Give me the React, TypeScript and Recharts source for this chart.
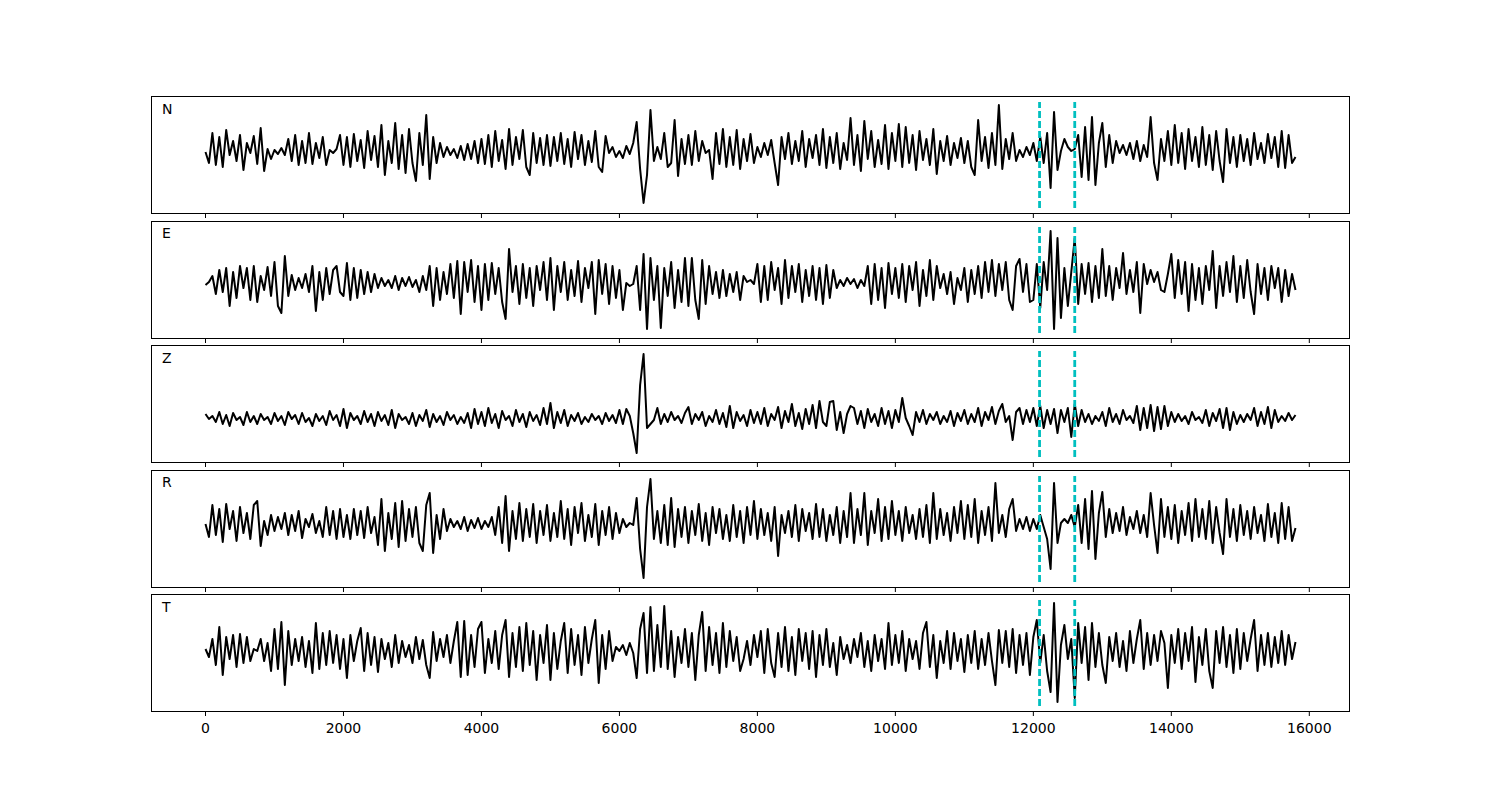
import { Line, LineChart, ReferenceLine, XAxis, YAxis } from "recharts";

// one value every 50 samples, 0..15800, amplitude read in px from panel centre (up = +)
const STEP = 50;
const X_TICKS = [0, 2000, 4000, 6000, 8000, 10000, 12000, 14000, 16000];
const PICKS = [12090, 12600];
const LABELS = ["N", "E", "Z", "R", "T"];

const traceN = [
  3, -8, 22, -10, 18, -12, 25, 0, 14, -6, 20, -15, 12, 2, 19, -9, 27, -16, 6, -4,
  5, 1, 7, 0, 16, -6, 20, -10, 14, -8, 22, -9, 12, -3, 18, -10, 5, 2, 6, 20,
  -10, 18, -12, 21, -6, 15, -13, 24, -5, 19, -12, 30, -20, 14, -8, 32, -14, 20, -18, 26,
  -8, -26, 22, -10, 40, -24, 18, -8, 12, -2, 8, 0, 6, -3, 9, -5, 11, -4, 14, -8,
  16, -9, 20, -12, 24, -6, 15, -14, 26, -10, 18, -4, 25, -12, -20, 22, -8, 17, -10, 20,
  -11, 18, -6, 22, -9, 16, -12, 23, -4, 20, -10, 14, -7, 24, -12, -17, 19, 2, 8, -2,
  4, -3, 9, 1, 12, 33, -14, -48, -20, 45, -6, 8, -4, 22, -12, -8, 35, -21, 16, -9,
  20, -10, 24, -6, 14, 2, 5, -24, 22, -9, 26, -12, 18, -10, 25, -14, 16, -6, 21, -8,
  8, -2, 12, 0, 15, -8, -30, 18, -4, 22, -9, 14, -6, 24, -12, 16, -3, 20, -10, 26,
  -13, 18, -8, 22, -14, 12, -5, 37, -10, 20, -16, 34, -4, 24, -12, 15, -9, 30, -14, 22,
  -6, 31, -12, 28, -8, 20, -15, 24, -5, 16, -10, 26, -19, 14, -6, 19, -10, 12, -3, 17,
  -8, 14, -12, -20, 35, -6, 18, -13, 22, -10, 50, -14, 16, -4, 22, -6, 5, -2, 8, 0,
  12, -6, 18, -8, 22, -33, 43, -15, 4, 16, 8, 4, 6, 20, -22, 28, -25, 38, -30, 12,
  32, -12, 20, -8, 14, 2, 10, 0, 12, -4, 14, -6, 10, -2, 38, -8, -25, 16, -6, 24,
  -10, 30, -8, 22, -14, 26, -6, 18, -12, 28, -10, 20, -15, 24, -6, -27, 26, -8, 18, -12,
  20, -6, 16, -10, 22, -4, 12, -8, 21, -3, 18, -12, 24, -13, 20, -8, -2,
];

const traceE = [
  -5, -2, 4, -14, 10, -12, 12, -26, 8, -18, 14, -8, 12, -20, 14, -22, 4, -10, 13, -16,
  18, -26, -33, 24, -16, 5, -10, 2, -8, 6, -12, 14, -31, 8, -20, 12, -14, 10, 14, -12,
  -16, 17, -20, 12, -18, 10, -14, 8, -12, 6, -8, 2, -6, 0, -8, 4, -10, 2, -6, 3,
  -7, 0, -12, 4, -10, 14, -26, 12, -20, 8, -14, 16, -18, 19, -34, 18, -12, 20, -22, 14,
  -30, 16, -20, 17, -14, 12, -22, -39, 31, -12, 14, -24, 16, -18, 12, -26, 14, -10, 18, -20,
  22, -30, 14, -12, 18, -20, 10, -16, 19, -22, 12, -8, 18, -34, 20, -14, 16, -24, 14, -18,
  10, -30, -3, -6, -4, 14, -30, 26, -49, 22, -20, 14, -48, 12, -16, 18, -28, 10, -22, 22,
  -26, 22, -20, -39, 20, -24, 14, -14, 8, -18, 10, -16, 6, -12, 8, -20, 4, -2, 0, -4,
  16, -22, 14, -20, 18, -10, 12, -24, 20, -18, 14, -12, 16, -22, 10, -16, 14, -20, 12, -24,
  15, -18, 10, -8, 0, -6, 2, -4, 1, -8, 0, -6, 14, -24, 16, -20, 12, -28, 17, -14,
  12, -18, 16, -22, 14, -10, 18, -26, 10, -16, 20, -20, 14, -8, 6, -14, 8, -24, 2, -10,
  12, -22, 10, -14, 14, -18, 18, -12, 20, -16, 16, -10, 18, -20, -30, 14, 21, -12, 16, -22,
  -20, 16, -28, 18, -10, 49, -49, 42, -38, 12, -26, 8, 42, -24, 16, -14, 17, -22, 14, -18,
  31, -16, 14, -20, 12, -8, 27, -14, 10, -12, 18, -33, 16, -4, 10, -2, 8, -10, -12, 6,
  26, -18, 20, -14, 18, -31, 16, -20, 12, -24, 14, -10, 29, -28, 14, -16, 18, -12, 24, -22,
  14, -18, 20, -12, -34, 16, -14, 12, -20, 14, -8, 12, -22, 10, -16, 6, -10,
];

const traceZ = [
  -10, -15, -12, -18, -8, -20, -11, -22, -9, -16, -13, -21, -8, -18, -12, -20, -10, -16, -13, -20,
  -9, -17, -12, -21, -8, -15, -11, -20, -9, -18, -14, -22, -10, -17, -12, -21, -7, -16, -11, -22,
  -5, -24, -9, -16, -12, -20, -7, -18, -10, -22, -8, -17, -11, -21, -6, -24, -10, -16, -13, -20,
  -9, -22, -11, -17, -6, -23, -10, -18, -12, -21, -8, -16, -11, -20, -13, -19, -9, -24, -5, -20,
  -8, -22, -4, -19, -10, -24, -7, -16, -12, -22, -6, -18, -10, -23, -8, -17, -11, -21, -4, -20,
  1, -24, -8, -19, -6, -22, -11, -17, -9, -20, -13, -18, -10, -16, -12, -20, -9, -17, -11, -19,
  -6, -20, -5, -12, -29, -49, 19, 50, -24, -20, -16, -4, -20, -10, -18, -8, -16, -12, -19, -9,
  -3, -20, -10, -16, -8, -22, -12, -18, -6, -20, -9, -23, -2, -24, -8, -17, -11, -22, -6, -19,
  -8, -20, -4, -22, -10, -16, -3, -24, -7, -18, 0, -22, -9, -25, -5, -20, -1, -24, 3, -18,
  -22, 2, 3, -26, -8, -29, -10, -2, -4, -20, -7, -24, -5, -18, -10, -22, -4, -20, -7, -24,
  -6, -18, 6, -14, -22, -31, -8, -18, -6, -20, -10, -16, -8, -20, -12, -18, -7, -22, -9, -17,
  -6, -20, -10, -18, -4, -22, -8, -16, -3, -20, -7, 0, -18, -12, -36, -8, -4, -20, -6, -18,
  -4, -22, -2, -24, -6, -20, -5, -29, -6, -18, -4, -33, 0, -22, -6, -18, -10, -20, -12, -17,
  -8, -22, -4, -18, -10, -20, -6, -16, -12, -19, -2, -26, -4, -24, -1, -27, -3, -25, -2, -22,
  -8, -18, -10, -17, -12, -20, -8, -16, -13, -19, -6, -22, -9, -17, -5, -24, -4, -26, -8, -20,
  -11, -18, -10, -16, -4, -22, -8, -20, -3, -24, -6, -18, -12, -17, -9, -16, -11,
];

const traceR = [
  5, -8, 24, -6, 20, -13, 25, 0, 18, -12, 22, -4, 16, -10, 24, 28, -17, 8, -6, 14,
  -2, 12, 0, 16, -6, 14, -2, 18, -9, 10, 2, 15, -4, 8, -8, 22, -6, 18, -10, 20,
  -8, 14, -10, 20, -6, 18, -9, 22, -4, 12, -16, 30, -22, 16, -10, 26, -18, 28, -12, 20,
  -8, 22, -14, -22, 24, 36, -24, 14, -10, 20, -2, 10, 2, 8, 0, 12, -2, 9, 1, 11,
  0, 8, 2, 12, -6, 22, -14, 33, -22, 18, -10, 26, -12, 20, -8, 25, -14, 18, -6, 24,
  -12, 16, -8, 28, -10, 20, -16, 22, -4, 26, -12, 14, -8, 25, -16, 18, -6, 22, -10, 16,
  -4, 10, 2, 6, 4, 31, -20, -49, 22, 50, -10, 18, -14, 24, -16, 31, -18, 20, -8, 22,
  -14, 18, -6, 25, -12, 16, -16, 22, -4, 20, -10, 14, -12, 24, -8, 18, -14, 22, -6, 28,
  -10, 20, -6, 16, -12, 22, -27, 14, -4, 18, -8, 24, -12, 20, -2, 16, -10, 25, -8, 20,
  -12, 14, -6, 22, -14, 18, -8, 36, -14, 20, -6, 36, -16, 18, -4, 30, -12, 22, -10, 28,
  -6, 18, -12, 22, -4, 14, -10, 20, -8, 24, -14, 36, -10, 20, -6, 16, -12, 22, -4, 28,
  -10, 24, -8, 30, -14, 18, -6, 22, -12, 46, -4, 14, -8, 20, 30, -2, 10, 0, 12, -2,
  10, 0, 14, 2, -10, -40, 46, -14, 6, 10, 6, 14, 2, 24, -14, 30, -20, 38, -30, 16,
  37, -8, 20, -4, 16, -2, 22, -6, 12, 0, 18, -4, 14, -8, 36, 4, -24, 30, -8, 22,
  -10, 24, -14, 18, -6, 26, -12, 30, -8, 20, -10, 28, -14, 22, -4, -25, 30, -8, 20, -12,
  24, -6, 18, -10, 22, -4, 14, -12, 25, -8, 16, -14, 26, -10, 22, -12, 1,
];

const traceT = [
  4, -4, 14, -12, 26, -22, 16, -6, 18, -14, 19, -10, 16, -8, 4, 2, 14, -8, 10, -18,
  24, -16, 31, -32, 22, -12, 14, -8, 16, -14, 12, -20, 30, -16, 20, -12, 22, -10, 18, -16,
  14, -25, 18, -8, 12, 25, -18, 20, -12, 16, -19, 14, -6, 10, -14, 18, -10, 12, -4, 8,
  -10, 16, -6, 13, -12, -25, 21, -8, 14, -4, 18, -10, 12, 31, -24, 32, -22, 18, -14, 24,
  31, -20, 14, -10, 22, -16, 18, 33, -24, 20, -14, 26, -18, 30, -12, 22, -27, 18, -10, 28,
  -27, 20, -16, 12, 30, -20, 24, -12, 18, -22, 26, -10, 14, 33, -30, 18, -16, 22, -8, 6,
  2, 8, -2, 10, 0, -25, 24, 40, -20, 46, -18, 28, -14, 47, -16, 22, -24, 16, -10, 24,
  -14, 20, -27, 18, 41, -18, 26, -12, 20, -20, 30, -14, 22, -8, 16, -18, -6, 12, -12, 18,
  -4, 22, -20, 24, -10, -24, 20, -14, 26, -18, 16, -22, 24, -8, 20, -16, 22, -24, 18, -12,
  24, -14, 10, -22, 16, -6, 8, -10, 14, -4, 20, -14, 12, -18, 18, -8, 14, -16, 30, -12,
  18, -10, 22, -18, 14, -6, 12, -16, 20, 31, -14, 18, -25, 12, -10, 22, -16, 20, -8, 14,
  -19, 18, -10, 22, -16, 14, -12, 20, -8, -32, 23, -10, 22, -14, 24, -20, 18, -12, 20, -22,
  16, 33, -10, 18, -18, -39, 50, -49, 8, 28, -6, 14, -45, 30, -10, 26, -27, 30, -14, 20,
  -12, -30, 16, -8, 20, -14, 12, -18, 22, -10, 14, 33, -16, 20, -12, 18, -8, 22, 10, -35,
  18, -10, 24, -16, 20, -8, 26, -29, 16, -12, 24, -18, -35, 22, -10, 26, -14, 18, -20, 24,
  -16, 20, -8, 14, 33, -18, 18, -12, 20, -14, 16, -10, 22, -12, 18, -6, 11,
];

const TRACES = [traceN, traceE, traceZ, traceR, traceT];

const PANEL_LEFT = 151;
const PANEL_WIDTH = 1199;
const PANEL_HEIGHT = 118;
const PANEL_TOPS = [96, 220.5, 345, 469.5, 594.3];

type PanelProps = {
  label: string;
  values: number[];
  top: number;
  showTickLabels: boolean;
};

// tick marks only, no text (shared x axis, labels on the bottom panel)
function EmptyTick() {
  return <g />;
}

function Panel({ label, values, top, showTickLabels }: PanelProps) {
  const data = values.map((v, i) => ({ t: i * STEP, v }));
  const axisHeight = showTickLabels ? 32 : 6;

  return (
    <div
      style={{
        position: "absolute",
        left: PANEL_LEFT,
        top,
        width: PANEL_WIDTH,
        height: PANEL_HEIGHT + axisHeight,
      }}
    >
      <LineChart
        width={PANEL_WIDTH}
        height={PANEL_HEIGHT + axisHeight}
        data={data}
        margin={{ top: 0, right: 0, bottom: 0, left: 0 }}
      >
        <XAxis
          dataKey="t"
          type="number"
          domain={[-790, 16590]}
          ticks={X_TICKS}
          interval={0}
          allowDataOverflow
          height={axisHeight}
          axisLine={false}
          tickLine={{ stroke: "#000", strokeWidth: 1 }}
          tickSize={4}
          tickMargin={7}
          tick={showTickLabels ? { fill: "#000", fontSize: 14 } : <EmptyTick />}
        />
        <YAxis hide domain={[-59, 59]} allowDataOverflow />
        <Line
          dataKey="v"
          type="linear"
          stroke="#000"
          strokeWidth={2}
          strokeLinejoin="round"
          dot={false}
          activeDot={false}
          isAnimationActive={false}
        />
        {PICKS.map((p) => (
          <ReferenceLine
            key={p}
            segment={[
              { x: p, y: -53 },
              { x: p, y: 53 },
            ]}
            stroke="#00bfbf"
            strokeWidth={2.8}
            strokeDasharray="7 3"
          />
        ))}
      </LineChart>
      <div
        style={{
          position: "absolute",
          left: 0,
          top: 0,
          width: PANEL_WIDTH,
          height: PANEL_HEIGHT,
          border: "1px solid #000",
          boxSizing: "border-box",
          pointerEvents: "none",
        }}
      />
      <div
        style={{
          position: "absolute",
          left: 11,
          top: 5.5,
          fontSize: 14,
          lineHeight: "14px",
          color: "#000",
        }}
      >
        {label}
      </div>
    </div>
  );
}

export default function App() {
  return (
    <div
      style={{
        position: "absolute",
        left: 0,
        top: 0,
        width: 1500,
        height: 800,
        background: "#fff",
        fontFamily: "'DejaVu Sans', sans-serif",
      }}
    >
      {TRACES.map((values, i) => (
        <Panel
          key={LABELS[i]}
          label={LABELS[i]}
          values={values}
          top={PANEL_TOPS[i]}
          showTickLabels={i === TRACES.length - 1}
        />
      ))}
    </div>
  );
}
